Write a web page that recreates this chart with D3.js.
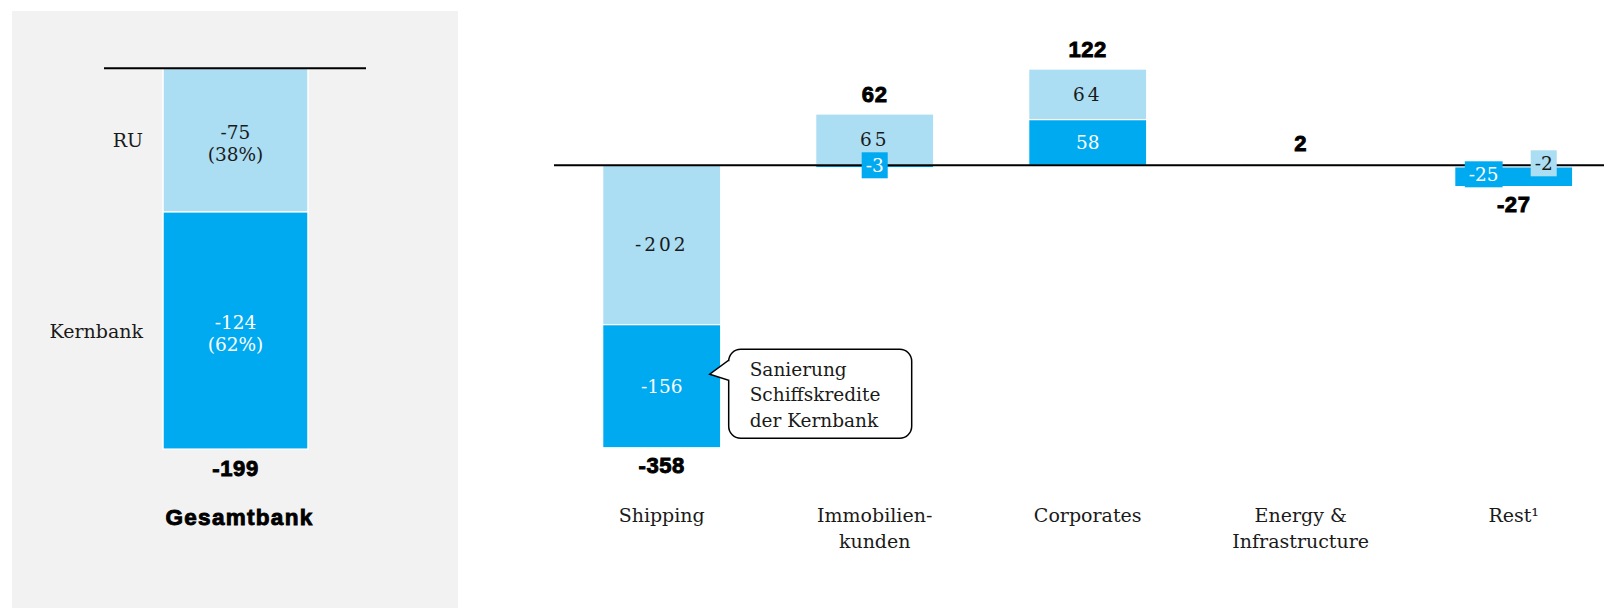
<!DOCTYPE html>
<html>
<head>
<meta charset="utf-8">
<script src="https://cdn.jsdelivr.net/npm/d3@7"></script>
<style>
  body { margin: 0; background: #fff; }
  .serif { font-family: 'DejaVu Serif', serif; }
  .bold { font-family: 'Liberation Sans', Arial, sans-serif; font-weight: bold;
          stroke: #000; stroke-width: 0.9px; letter-spacing: 0.6px; }
</style>
</head>
<body>
<div id="chart"></div>
<script>
// segment values (Kernbank = dark, RU = light)
const categories = ['Shipping', 'Immobilien-\nkunden', 'Corporates', 'Energy &\nInfrastructure', 'Rest\u00b9'];
const kernbank = [-156, -3, 58, 0, -25];
const ru = [-202, 65, 64, 2, -2];
const totals = [-358, 62, 122, 2, -27];

// Gesamtbank panel
const gesamtCategory = ['Gesamtbank'];
const gesamtKernbank = [-124];
const gesamtRu = [-75];
const gesamtTotal = [-199];
const segmentNames = { ru: 'RU', kernbank: 'Kernbank' };

const calloutLines = ['Sanierung', 'Schiffskredite', 'der Kernbank'];

const W = 1604, H = 609;
const LIGHT = '#abddf3', DARK = '#00aaf1';
const colors = { ru: LIGHT, kernbank: DARK };

const svg = d3.select('#chart').append('svg')
  .attr('width', W).attr('height', H);

// positive stack: Kernbank first, negative: RU first
function stackRow(d) {
  let up = 0, down = 0;
  const segs = [];
  ['kernbank', 'ru'].forEach(k => {
    if (d[k] > 0) { segs.push({ key: k, v: d[k], y0: up, y1: up + d[k] }); up += d[k]; }
  });
  ['ru', 'kernbank'].forEach(k => {
    if (d[k] < 0) { segs.push({ key: k, v: d[k], y0: down, y1: down + d[k] }); down += d[k]; }
  });
  return { segs, up, down };
}

// ---------- linkes Panel: Gesamtbank ----------
svg.append('rect')
  .attr('x', 12).attr('y', 11).attr('width', 446).attr('height', 597)
  .attr('fill', '#f2f2f2');

const xl = d3.scaleBand().domain(gesamtCategory).range([163, 308]);
const yl = d3.scaleLinear().domain([-200, 0]).range([68.3 + 200 * 1.914, 68.3]);

const gRows = gesamtCategory.map((c, i) => ({
  cat: c, kernbank: gesamtKernbank[i], ru: gesamtRu[i], total: gesamtTotal[i]
}));

gRows.forEach(d => {
  const st = stackRow(d);
  const g = svg.append('g');
  g.selectAll('rect').data(st.segs).join('rect')
    .attr('x', xl(d.cat))
    .attr('width', xl.bandwidth())
    .attr('y', s => yl(Math.max(s.y0, s.y1)))
    .attr('height', s => Math.abs(yl(s.y0) - yl(s.y1)))
    .attr('fill', s => colors[s.key])
    .attr('stroke', '#fff').attr('stroke-width', 1.5);

  const cx = xl(d.cat) + xl.bandwidth() / 2;
  st.segs.forEach(s => {
    const cy = (yl(s.y0) + yl(s.y1)) / 2;
    const pct = Math.round(s.v / d.total * 100);
    const col = s.key === 'ru' ? '#1a1a1a' : '#fff';
    g.append('text').attr('class', 'serif')
      .attr('x', cx).attr('y', cy - 8)
      .attr('text-anchor', 'middle').attr('dominant-baseline', 'central')
      .attr('font-size', 18.5).attr('fill', col).text(s.v);
    g.append('text').attr('class', 'serif')
      .attr('x', cx).attr('y', cy + 14)
      .attr('text-anchor', 'middle').attr('dominant-baseline', 'central')
      .attr('font-size', 18.5).attr('fill', col).text(`(${pct}%)`);
    // Legende links
    g.append('text').attr('class', 'serif')
      .attr('x', 143).attr('y', cy)
      .attr('text-anchor', 'end').attr('dominant-baseline', 'central')
      .attr('font-size', 19).attr('fill', '#1a1a1a').text(segmentNames[s.key]);
  });

  g.append('text').attr('class', 'bold')
    .attr('x', cx).attr('y', yl(st.down) + 19)
    .attr('text-anchor', 'middle').attr('dominant-baseline', 'central')
    .attr('font-size', 22).text(d.total);
});

svg.append('line')
  .attr('x1', 104).attr('x2', 366)
  .attr('y1', yl(0)).attr('y2', yl(0))
  .attr('stroke', '#000').attr('stroke-width', 2);

const xlAxis = svg.append('g')
  .attr('transform', 'translate(4, 517)')
  .call(d3.axisBottom(xl).tickSize(0).tickPadding(0));
xlAxis.select('.domain').remove();
xlAxis.selectAll('text')
  .attr('class', 'bold').attr('y', 0).attr('dy', null)
  .attr('dominant-baseline', 'central')
  .attr('font-size', 22.5).attr('font-family', null).attr('fill', '#000')
  .style('letter-spacing', '1.3px');

// ---------- rechter Chart: Segmente ----------
const x = d3.scaleBand().domain(categories)
  .range([554, 1621.4]).paddingInner(0.446).paddingOuter(0.2286);
const y = d3.scaleLinear().domain([-400, 200])
  .range([165.3 + 400 * 0.789, 165.3 - 200 * 0.789]);

const rows = categories.map((c, i) => ({
  cat: c, kernbank: kernbank[i], ru: ru[i], total: totals[i]
}));

const barsG = svg.append('g');
const labelsG = svg.append('g');
const boxes = [];

rows.forEach(d => {
  const st = stackRow(d);
  const cx = x(d.cat) + x.bandwidth() / 2;
  barsG.selectAll(null).data(st.segs).join('rect')
    .attr('x', x(d.cat))
    .attr('width', x.bandwidth())
    .attr('y', s => y(Math.max(s.y0, s.y1)))
    .attr('height', s => Math.abs(y(s.y0) - y(s.y1)))
    .attr('fill', s => colors[s.key])
    .attr('stroke', '#fff').attr('stroke-width', 1.2);

  const nonZero = st.segs.filter(s => s.v !== 0);
  const small = [];
  st.segs.forEach(s => {
    const h = Math.abs(y(s.y0) - y(s.y1));
    if (h >= 30) {
      labelsG.append('text').attr('class', 'serif')
        .attr('x', cx).attr('y', (y(s.y0) + y(s.y1)) / 2)
        .attr('text-anchor', 'middle').attr('dominant-baseline', 'central')
        .attr('font-size', 18.5)
        .attr('letter-spacing', s.key === 'ru' ? 3 : 0)
        .attr('fill', s.key === 'ru' ? '#1a1a1a' : '#fff')
        .text(s.v);
    } else if (nonZero.length > 1) {
      small.push(s);
    }
  });
  // kleine Werte in Kästchen
  small.sort((a, b) => a.key === 'kernbank' ? -1 : 1);
  small.forEach((s, i) => {
    let dx = 0, dy = 0;
    if (small.length > 1) { dx = i === 0 ? -30 : 30; dy = i === 0 ? 9 : -2; }
    boxes.push({ s, cx: cx + dx, cy: y(0) + dy });
  });

  // Summe
  const ty = d.total >= 0 ? y(st.up) - 20 : y(st.down) + 18;
  labelsG.append('text').attr('class', 'bold')
    .attr('x', cx).attr('y', ty)
    .attr('text-anchor', 'middle').attr('dominant-baseline', 'central')
    .attr('font-size', 22).text(d.total);
});

svg.append('line')
  .attr('x1', 554).attr('x2', W)
  .attr('y1', y(0)).attr('y2', y(0))
  .attr('stroke', '#000').attr('stroke-width', 2);

const boxG = svg.append('g');
boxes.forEach(b => {
  const t = boxG.append('text').attr('class', 'serif')
    .attr('x', b.cx).attr('y', b.cy)
    .attr('text-anchor', 'middle').attr('dominant-baseline', 'central')
    .attr('font-size', 18.5)
    .attr('fill', b.s.key === 'ru' ? '#1a1a1a' : '#fff')
    .text(b.s.v);
  const w = t.node().getComputedTextLength() + 8;
  boxG.insert('rect', () => t.node())
    .attr('x', b.cx - w / 2).attr('y', b.cy - 13)
    .attr('width', w).attr('height', 26)
    .attr('fill', colors[b.s.key]);
});

// Callout an Shipping / Kernbank
const ship = stackRow(rows[0]).segs.find(s => s.key === 'kernbank');
const segCy = (y(ship.y0) + y(ship.y1)) / 2;
const barRight = x(rows[0].cat) + x.bandwidth();
const bx = barRight + 8, by = segCy - 37, bw = 183, bh = 89, r = 12;
const tipX = barRight - 11, tipY = segCy - 12;
const calloutPath = `M${bx + r},${by} H${bx + bw - r} A${r},${r} 0 0 1 ${bx + bw},${by + r}
  V${by + bh - r} A${r},${r} 0 0 1 ${bx + bw - r},${by + bh} H${bx + r}
  A${r},${r} 0 0 1 ${bx},${by + bh - r} V${by + 31} L${tipX},${tipY} L${bx},${by + 11}
  V${by + r} A${r},${r} 0 0 1 ${bx + r},${by} Z`;
svg.append('path').attr('d', calloutPath)
  .attr('fill', '#fff').attr('stroke', '#000').attr('stroke-width', 1.5);
svg.append('g').selectAll('text').data(calloutLines).join('text')
  .attr('class', 'serif')
  .attr('x', bx + 21).attr('y', (d, i) => by + 20 + i * 25.5)
  .attr('dominant-baseline', 'central')
  .attr('font-size', 18.5).attr('fill', '#1a1a1a')
  .text(d => d);

// x-Achse mit Zeilenumbruch
const xAxis = svg.append('g')
  .attr('transform', 'translate(0, 515)')
  .call(d3.axisBottom(x).tickSize(0).tickPadding(0));
xAxis.select('.domain').remove();
xAxis.selectAll('text').each(function (d) {
  const t = d3.select(this)
    .attr('class', 'serif').attr('font-family', null)
    .attr('y', 0).attr('dy', null)
    .attr('dominant-baseline', 'central')
    .attr('font-size', 19).attr('fill', '#1a1a1a')
    .text(null);
  d.split('\n').forEach((line, i) => {
    t.append('tspan').attr('x', 0).attr('y', i * 25.7).text(line);
  });
});
</script>
</body>
</html>
